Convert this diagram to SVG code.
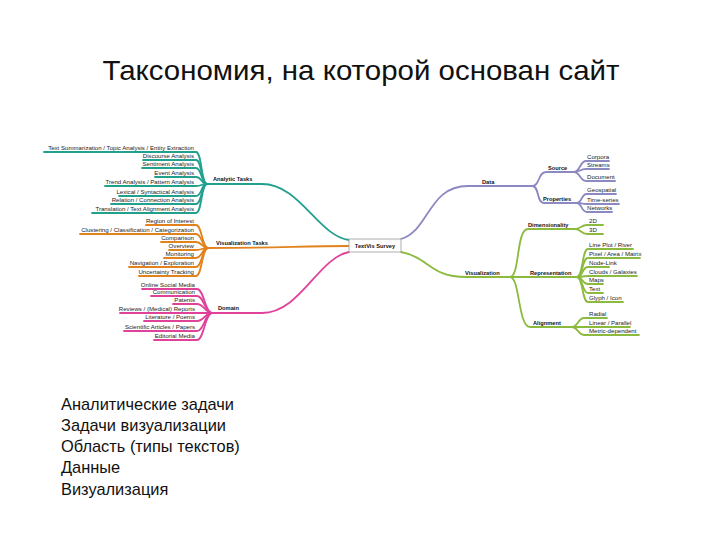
<svg xmlns="http://www.w3.org/2000/svg" width="720" height="540" viewBox="0 0 720 540">
<style>
  .title{font-family:"Liberation Sans",Arial,sans-serif;font-size:28px;fill:#111}
  .list{font-family:"Liberation Sans",Arial,sans-serif;font-size:16.4px;fill:#111}
  .lf{font-family:"Liberation Sans",Arial,sans-serif;font-size:6.1px;fill:#222}
  .lb{font-family:"Liberation Sans",Arial,sans-serif;font-size:5.7px;font-weight:bold;fill:#111}
  .end{text-anchor:end}
  path{fill:none;stroke-width:1.8;stroke-linecap:round}
  .teal path{stroke:#22a08e}
  .orange path{stroke:#e2821c}
  .pink path{stroke:#e0429a}
  .purple path{stroke:#8c88c2}
  .green path{stroke:#8cba3e}
</style>
<rect width="720" height="540" fill="#fff"/>
<text class="title" x="361" y="80" text-anchor="middle" textLength="517" lengthAdjust="spacingAndGlyphs">Таксономия, на которой основан сайт</text>

<g id="connectors">
  <g class="teal">
    <path d="M207,184 H262 C300,184 318,236 349,240"/>
    <path d="M44,152 H196 C202,152 201,184 207,184"/>
    <path d="M143,160 H196 C202,160 201,184 207,184"/>
    <path d="M142,168 H196 C202,168 201,184 207,184"/>
    <path d="M155,177 H196 C202,177 201,184 207,184"/>
    <path d="M105,186 H196 C202,186 201,184 207,184"/>
    <path d="M119,196 H196 C202,196 201,184 207,184"/>
    <path d="M111,204 H196 C202,204 201,184 207,184"/>
    <path d="M92,213 H196 C202,213 201,184 207,184"/>
  </g>
  <g class="orange">
    <path d="M208,248 C280,248 300,246 349,246"/>
    <path d="M146,225 H196 C202,225 202,248 208,248"/>
    <path d="M80,234 H196 C202,234 202,248 208,248"/>
    <path d="M161,242 H196 C202,242 202,248 208,248"/>
    <path d="M169,250 H196 C202,250 202,248 208,248"/>
    <path d="M164,258 H196 C202,258 202,248 208,248"/>
    <path d="M129,267 H196 C202,267 202,248 208,248"/>
    <path d="M139,276 H196 C202,276 202,248 208,248"/>
  </g>
  <g class="pink">
    <path d="M212,313 H262 C300,313 318,258 349,252"/>
    <path d="M142,289 H197 C204,289 205,313 212,313"/>
    <path d="M151,296 H197 C204,296 205,313 212,313"/>
    <path d="M173,304 H197 C204,304 205,313 212,313"/>
    <path d="M120,313 H197 C204,313 205,313 212,313"/>
    <path d="M144,321 H197 C204,321 205,313 212,313"/>
    <path d="M124,331 H197 C204,331 205,313 212,313"/>
    <path d="M154,340 H197 C204,340 205,313 212,313"/>
  </g>
  <g class="purple">
    <path d="M401,239 C430,230 428,186 468,186 H532"/>
    <path d="M532,186 C540,186 538,172 546,172 H574"/>
    <path d="M574,172 C580,172 580,161 586,161 H609"/>
    <path d="M574,172 C580,172 580,169 586,169 H609"/>
    <path d="M574,172 C580,172 580,181 586,181 H615"/>
    <path d="M532,186 C540,186 536,203 544,203 H577"/>
    <path d="M577,203 C582,203 581,194 587,194 H616"/>
    <path d="M577,203 C582,203 581,204 587,204 H619"/>
    <path d="M577,203 C582,203 581,212 587,212 H612"/>
  </g>
  <g class="green">
    <path d="M401,252 C430,258 430,277 466,277 H510"/>
    <path d="M510,277 C520,277 516,229 528,229 H575"/>
    <path d="M575,229 C581,229 581,225 587,225 H603"/>
    <path d="M575,229 C581,229 581,234 587,234 H603"/>
    <path d="M510,277 H577"/>
    <path d="M577,277 C583,277 582,249 588,249 H633"/>
    <path d="M577,277 C583,277 582,258 588,258 H640"/>
    <path d="M577,277 C583,277 582,267 588,267 H609"/>
    <path d="M577,277 C583,277 582,276 588,276 H637"/>
    <path d="M577,277 C583,277 582,284 588,284 H603"/>
    <path d="M577,277 C583,277 582,293 588,293 H603"/>
    <path d="M577,277 C583,277 582,302 588,302 H623"/>
    <path d="M510,277 C520,277 518,327 530,327 H572"/>
    <path d="M572,327 C578,327 578,318 584,318 H607"/>
    <path d="M572,327 C578,327 578,327 584,327 H630"/>
    <path d="M572,327 C578,327 578,335 584,335 H639"/>
  </g>
</g>

<g id="center">
  <rect x="349" y="239" width="52" height="13" fill="#fff" stroke="#9a9a9a" stroke-width="0.8"/>
  <text class="lb" x="375" y="248" text-anchor="middle">TextVis Survey</text>
</g>

<g id="analytic-tasks">
  <text class="lb" x="213" y="181">Analytic Tasks</text>
  <text class="lf end" x="194" y="150">Text Summarization / Topic Analysis / Entity Extraction</text>
  <text class="lf end" x="194" y="158">Discourse Analysis</text>
  <text class="lf end" x="194" y="166">Sentiment Analysis</text>
  <text class="lf end" x="194" y="175">Event Analysis</text>
  <text class="lf end" x="194" y="184">Trend Analysis / Pattern Analysis</text>
  <text class="lf end" x="194" y="194">Lexical / Syntactical Analysis</text>
  <text class="lf end" x="194" y="202">Relation / Connection Analysis</text>
  <text class="lf end" x="194" y="211">Translation / Text Alignment Analysis</text>
</g>

<g id="visualization-tasks">
  <text class="lb" x="216" y="245">Visualization Tasks</text>
  <text class="lf end" x="194" y="223">Region of Interest</text>
  <text class="lf end" x="194" y="232">Clustering / Classification / Categorization</text>
  <text class="lf end" x="194" y="240">Comparison</text>
  <text class="lf end" x="194" y="248">Overview</text>
  <text class="lf end" x="194" y="256">Monitoring</text>
  <text class="lf end" x="194" y="265">Navigation / Exploration</text>
  <text class="lf end" x="194" y="274">Uncertainty Tracking</text>
</g>

<g id="domain">
  <text class="lb" x="218" y="310">Domain</text>
  <text class="lf end" x="195" y="287">Online Social Media</text>
  <text class="lf end" x="195" y="294">Communication</text>
  <text class="lf end" x="195" y="302">Patents</text>
  <text class="lf end" x="195" y="311">Reviews / (Medical) Reports</text>
  <text class="lf end" x="195" y="319">Literature / Poems</text>
  <text class="lf end" x="195" y="329">Scientific Articles / Papers</text>
  <text class="lf end" x="195" y="338">Editorial Media</text>
</g>

<g id="data">
  <text class="lb" x="482" y="184">Data</text>
  <text class="lb" x="548" y="170">Source</text>
  <text class="lf" x="587" y="159">Corpora</text>
  <text class="lf" x="587" y="167">Streams</text>
  <text class="lf" x="587" y="179">Document</text>
  <text class="lb" x="543" y="201">Properties</text>
  <text class="lf" x="587" y="192">Geospatial</text>
  <text class="lf" x="587" y="202">Time-series</text>
  <text class="lf" x="587" y="210">Networks</text>
</g>

<g id="visualization">
  <text class="lb" x="465" y="275">Visualization</text>
  <text class="lb" x="528" y="227">Dimensionality</text>
  <text class="lf" x="589" y="223">2D</text>
  <text class="lf" x="589" y="232">3D</text>
  <text class="lb" x="530" y="275">Representation</text>
  <text class="lf" x="589" y="247">Line Plot / River</text>
  <text class="lf" x="589" y="256">Pixel / Area / Matrix</text>
  <text class="lf" x="589" y="265">Node-Link</text>
  <text class="lf" x="589" y="274">Clouds / Galaxies</text>
  <text class="lf" x="589" y="282">Maps</text>
  <text class="lf" x="589" y="291">Text</text>
  <text class="lf" x="589" y="300">Glyph / Icon</text>
  <text class="lb" x="533" y="325">Alignment</text>
  <text class="lf" x="589" y="316">Radial</text>
  <text class="lf" x="589" y="325">Linear / Parallel</text>
  <text class="lf" x="589" y="333">Metric-dependent</text>
</g>

<g id="legend">
  <text class="list" x="61" y="410">Аналитические задачи</text>
  <text class="list" x="61" y="431">Задачи визуализации</text>
  <text class="list" x="61" y="452">Область (типы текстов)</text>
  <text class="list" x="61" y="473">Данные</text>
  <text class="list" x="61" y="495">Визуализация</text>
</g>
</svg>
